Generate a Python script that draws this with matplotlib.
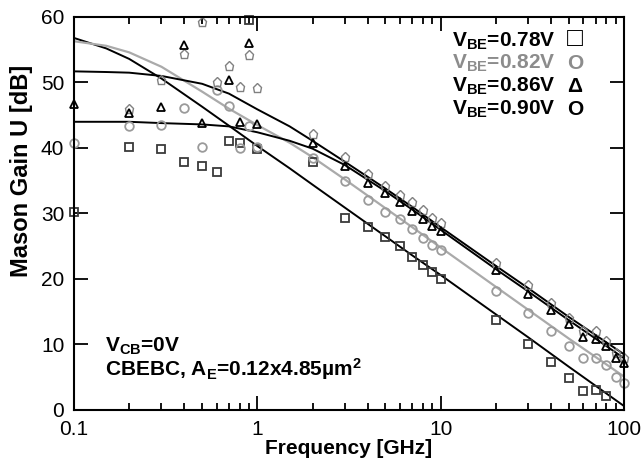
import numpy as np
import matplotlib
matplotlib.use("Agg")
import matplotlib.pyplot as plt

plt.rcParams["font.family"] = ["Liberation Sans", "DejaVu Sans"]
plt.rcParams["mathtext.fontset"] = "custom"
plt.rcParams["mathtext.rm"] = "Liberation Sans:bold"
plt.rcParams["mathtext.bf"] = "Liberation Sans:bold"
plt.rcParams["mathtext.default"] = "bf"

# measured frequencies [GHz]
freq = [0.1, 0.2, 0.3, 0.4, 0.5, 0.6, 0.7, 0.8, 0.9, 1,
        2, 3, 4, 5, 6, 7, 8, 9, 10,
        20, 30, 40, 50, 60, 70, 80, 90, 100]
nan = np.nan
# measured U [dB] per bias point
u_078 = [30.3, 40.2, 39.9, 37.8, 37.3, 36.4, 41.0, 40.7, 59.6, 39.8,
         37.8, 29.3, 27.9, 26.4, 25.0, 23.3, 22.1, 21.0, 20.0,
         13.8, 10.1, 7.4, 4.9, 2.9, 3.0, 2.1, nan, nan]
u_082 = [40.8, 43.4, 43.5, 46.1, 40.1, 48.9, 46.4, 40.0, 43.4, 40.2,
         38.5, 35.0, 32.1, 30.3, 29.2, 27.6, 26.3, 25.2, 24.4,
         18.2, 14.8, 12.1, 9.7, 7.9, 7.9, 6.9, 5.0, 4.1]
u_086 = [46.7, 45.3, 46.2, 55.7, 43.8, nan, 50.4, 44.0, 56.1, 43.7,
         40.7, 37.2, 34.7, 33.2, 31.8, 30.4, 29.1, 28.1, 27.4,
         21.3, 17.7, 15.3, 13.1, 11.2, 10.9, 9.7, 7.9, 7.2]
u_090 = [nan, 45.9, 50.4, 54.4, 59.2, 50.1, 52.5, 49.3, 54.2, 49.2,
         42.1, 38.7, 36.1, 34.2, 32.8, 31.7, 30.5, 29.3, 28.6,
         22.4, 19.1, 16.4, 14.0, 12.1, 12.0, 10.6, 8.7, 8.0]

# model fits
fit_freq = [0.1, 0.15, 0.2, 0.3, 0.5, 0.7, 1, 1.5, 2, 3, 5, 7, 10, 20, 30, 50, 100]
fit_078 = [56.8, 55.2, 53.6, 50.6, 46.3, 43.4, 40.3, 36.9, 34.4, 30.9,
           26.5, 23.6, 20.6, 14.6, 11.1, 6.6, 0.6]
fit_082 = [56.3, 55.6, 54.6, 52.4, 48.6, 46.0, 43.5, 40.8, 38.6, 35.2,
           30.8, 27.9, 24.8, 18.8, 15.3, 10.9, 5.1]
fit_086 = [44.0, 44.0, 44.0, 43.8, 43.6, 43.3, 42.4, 41.1, 39.9, 37.4,
           33.4, 30.6, 27.5, 21.5, 18.1, 13.7, 7.9]
fit_090 = [51.7, 51.6, 51.5, 51.0, 49.8, 48.3, 45.9, 43.3, 41.1, 37.9,
           33.8, 31.0, 27.9, 22.0, 18.6, 14.2, 8.5]

legend_rows = [("V$_{BE}$=0.78V", "\u25a1", "black", 19),
               ("V$_{BE}$=0.82V", "O", "#8c8c8c", 15),
               ("V$_{BE}$=0.86V", "\u0394", "black", 15),
               ("V$_{BE}$=0.90V", "O", "black", 15)]

fig = plt.figure(figsize=(6.43, 4.67), dpi=100)
ax = fig.add_axes([0.1151, 0.1221, 0.8554, 0.8415])

ax.plot(fit_freq, fit_078, color="black", lw=1.4)
ax.plot(fit_freq, fit_082, color="#aaaaaa", lw=1.6)
ax.plot(fit_freq, fit_086, color="black", lw=1.4)
ax.plot(fit_freq, fit_090, color="black", lw=1.4)

mk = dict(ls="none", mfc="none", clip_on=False)
ax.plot(freq, u_078, marker="s", ms=6.2, mec="#3a3a3a", mew=1.3, **mk)
ax.plot(freq, u_082, marker="o", ms=6.2, mec="#9a9a9a", mew=1.3, **mk)
ax.plot(freq, u_090, marker="p", ms=6.6, mec="#808080", mew=1.0, **mk)
ax.plot(freq, u_086, marker="^", ms=6.4, mec="black", mew=1.3, **mk)

ax.set_xscale("log")
ax.set_xlim(0.1, 100)
ax.set_ylim(0, 60)
ax.set_yticks(range(0, 61, 10))
ax.set_xticks([0.1, 1, 10, 100])
ax.set_xticklabels(["0.1", "1", "10", "100"])
ax.tick_params(which="both", direction="in", top=True, right=True,
               labelsize=15, width=1.3)
ax.tick_params(which="major", length=10, pad=7)
ax.tick_params(which="minor", length=5)
for s in ax.spines.values():
    s.set_linewidth(1.5)

ax.set_xlabel("Frequency [GHz]", fontsize=15, fontweight="bold")
ax.set_ylabel("Mason Gain U [dB]", fontsize=17, fontweight="bold")
ax.xaxis.set_label_coords(0.5, -0.075)
ax.yaxis.set_label_coords(-0.074, 0.608)

for i, (lab, sym, col, fs) in enumerate(legend_rows):
    y = 0.925 - i * 0.0578
    ax.text(0.6870, y, lab, transform=ax.transAxes, fontsize=15,
            fontweight="bold", color=col, va="baseline")
    ax.text(0.911, y, sym, transform=ax.transAxes, fontsize=fs,
            fontweight="bold", color=col, va="baseline", ha="center")

ax.text(0.056, 0.1476, "V$_{CB}$=0V", transform=ax.transAxes,
        fontsize=15, fontweight="bold", va="baseline")
ax.text(0.056, 0.086, "CBEBC, A$_{E}$=0.12x4.85\u00b5m$^{2}$",
        transform=ax.transAxes, fontsize=15, fontweight="bold", va="baseline")

fig.savefig("out.png", dpi=100)
